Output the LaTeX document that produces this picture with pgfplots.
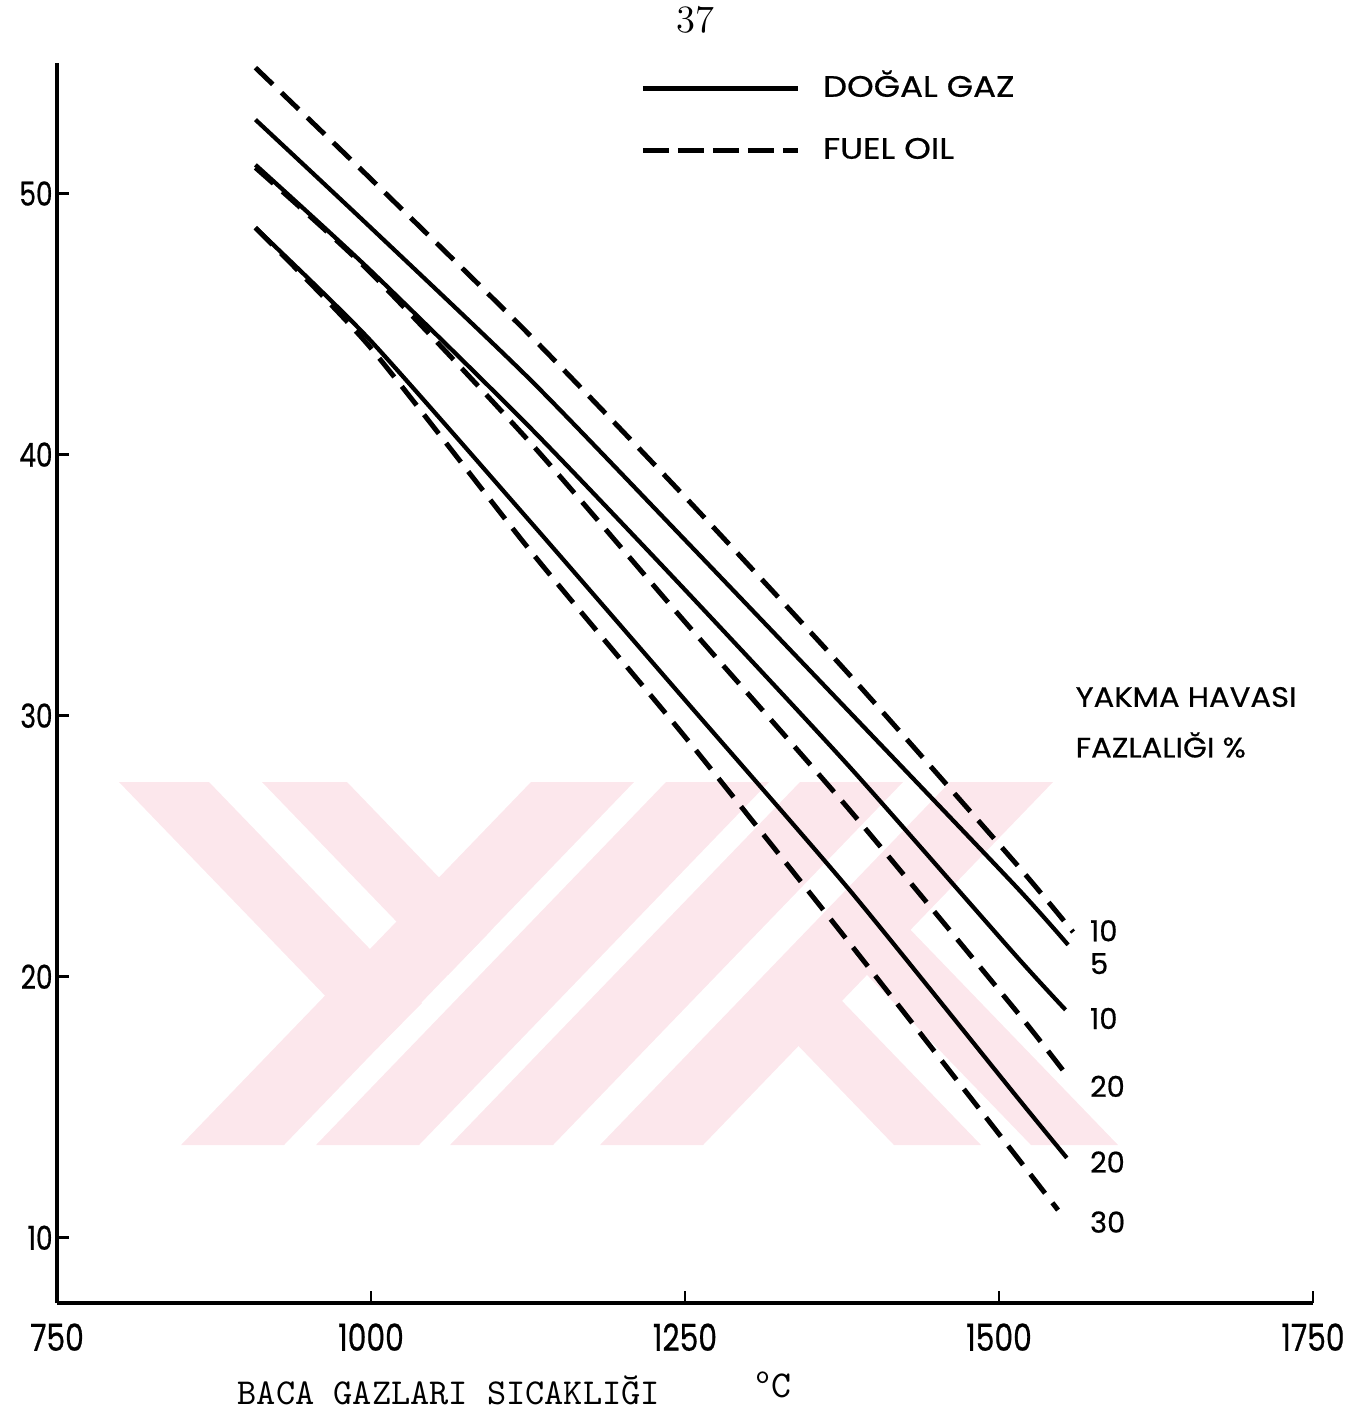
\documentclass[border=0pt]{standalone}
\usepackage{fontspec}
\usepackage{pgfplots}
\pgfplotsset{compat=1.18}
\newfontfamily\pop[FakeBold=0.6]{Poppins}
\newfontfamily\popw[FakeStretch=1.09,FakeBold=0.6]{Poppins}
\newfontfamily\popl[FakeStretch=1.15,FakeBold=0.6]{Poppins}
\newfontfamily\popn[FakeStretch=0.8,FakeBold=0.6]{Poppins}
\definecolor{wm}{RGB}{252,231,236}
\begin{document}
\begin{tikzpicture}
\useasboundingbox (0,0) rectangle (136.2mm,-141mm);
\begin{scope}[x=0.1mm,y=-0.1mm]
% watermark
\fill[wm] (181,1145) -- (284,1145) -- (634,782) -- (531,782) -- cycle;
\fill[wm] (316,1145) -- (419,1145) -- (769,782) -- (666,782) -- cycle;
\fill[wm] (450,1145) -- (553,1145) -- (903,782) -- (800,782) -- cycle;
\fill[wm] (600,1145) -- (703,1145) -- (1053,782) -- (950,782) -- cycle;
\fill[wm] (119,782) -- (209,782) -- (422,1003) -- (376.5,1049) -- cycle;
\fill[wm] (262,782) -- (347,782) -- (490.6,931) -- (448,975) -- cycle;
\fill[wm] (894,1145) -- (981,1145) -- (791,948) -- (748.4,994) -- cycle;
\fill[wm] (1031,1145) -- (1118,1145) -- (859.6,877) -- (816,922) -- cycle;
% texts
\node[anchor=west,inner sep=0pt,font=\fontsize{8}{9}\popw] at (1075,697) {YAKMA HAVASI};
\node[anchor=west,inner sep=0pt,font=\fontsize{8}{9}\popw] at (1075,745) {FAZLALIĞI \%};
\node[anchor=west,inner sep=0pt,font=\fontsize{10.4}{12}\ttfamily\addfontfeature{FakeBold=1.2}] at (237,1390) {BACA GAZLARI SICAKLIĞI};
\node[anchor=west,inner sep=0pt,font=\fontsize{10.8}{12}\ttfamily\addfontfeature{FakeBold=1.2}] at (755,1385) {\textsuperscript{o}C};
\node[inner sep=0pt,font=\fontsize{11}{12}\selectfont] at (695,20) {37};
\end{scope}
\begin{axis}[
  at={(5.7mm,-130.3mm)}, anchor=south west,
  scale only axis, width=125.6mm, height=124.0mm,
  xmin=750, xmax=1750, ymin=7.5, ymax=55,
  axis x line=bottom, axis y line=left,
  axis line style={line width=1.2pt,-},
  xtick={750,1000,1250,1500,1750}, xticklabels={750,1000,1250,1500,1750},
  ytick={10,20,30,40,50}, yticklabels={10,20,30,40,50},
  tick align=inside, major tick length=1.2mm,
  tick style={line width=0.8pt,black},
  xticklabel style={font=\fontsize{10.6}{12}\popn, yshift=-0.8mm},
  yticklabel style={font=\fontsize{9.4}{11}\popn, xshift=0.8mm},
  clip=false,
  legend cell align=left,
  legend image code/.code={\draw[#1] (0mm,0mm) -- (15.5mm,0mm);},
  legend style={at={(axis cs:1214,54.5)}, anchor=north west, draw=none, fill=none,
    inner sep=0pt, row sep=3.9mm, font=\fontsize{8.4}{9}\popl,
    nodes={inner sep=0pt, text height=2.0mm, text depth=0.3mm},
    /tikz/every odd column/.append style={column sep=2.3mm}},
]
\addlegendimage{black, solid, line width=1.3pt}
\addlegendentry{DOĞAL GAZ}
\addlegendimage{black, dash pattern=on 2.6mm off 0.9mm, line width=1.3pt}
\addlegendentry{FUEL OIL}

% fuel oil 10
\addplot[black, line width=1.4pt, dash pattern=on 2.4mm off 1.2mm, smooth, tension=0.4, forget plot] coordinates {
(908,54.82) (999,50.60) (1127,44.55) (1250,38.38) (1381,31.56) (1513,24.36) (1559,21.71)};
% dogal gaz 5
\addplot[black, line width=1.2pt, smooth, tension=0.4, forget plot] coordinates {
(908,52.83) (999,48.73) (1127,42.86) (1250,36.73) (1381,30.14) (1513,23.48) (1555,21.22)};
% dogal gaz 10
\addplot[black, line width=1.2pt, smooth, tension=0.4, forget plot] coordinates {
(908,51.10) (999,47.08) (1127,41.02) (1250,34.82) (1381,28.04) (1513,20.83) (1553,18.73)};
% fuel oil 20
\addplot[black, line width=1.4pt, dash pattern=on 2.4mm off 1.2mm, smooth, tension=0.4, forget plot] coordinates {
(908,50.99) (999,47.00) (1127,40.45) (1250,33.59) (1381,26.39) (1513,18.73) (1555,16.16)};
% dogal gaz 20
\addplot[black, line width=1.2pt, smooth, tension=0.4, forget plot] coordinates {
(908,48.69) (999,44.40) (1127,37.42) (1250,30.60) (1381,23.32) (1513,15.47) (1554,13.06)};
% fuel oil 30
\addplot[black, line width=1.4pt, dash pattern=on 2.4mm off 1.2mm, smooth, tension=0.4, forget plot] coordinates {
(908,48.69) (999,44.13) (1127,36.31) (1250,29.19) (1381,21.29) (1513,13.17) (1547,11.06)};

\begin{scope}[every node/.style={anchor=west, inner sep=0pt, font=\fontsize{8.2}{10}\pop}]
\node at (axis cs:1572,21.76) {10};
\node at (axis cs:1572,20.5) {5};
\node at (axis cs:1572,18.4) {10};
\node at (axis cs:1572,15.8) {20};
\node at (axis cs:1572,12.9) {20};
\node at (axis cs:1572,10.6) {30};
\end{scope}
\end{axis}
\end{tikzpicture}
\end{document}
